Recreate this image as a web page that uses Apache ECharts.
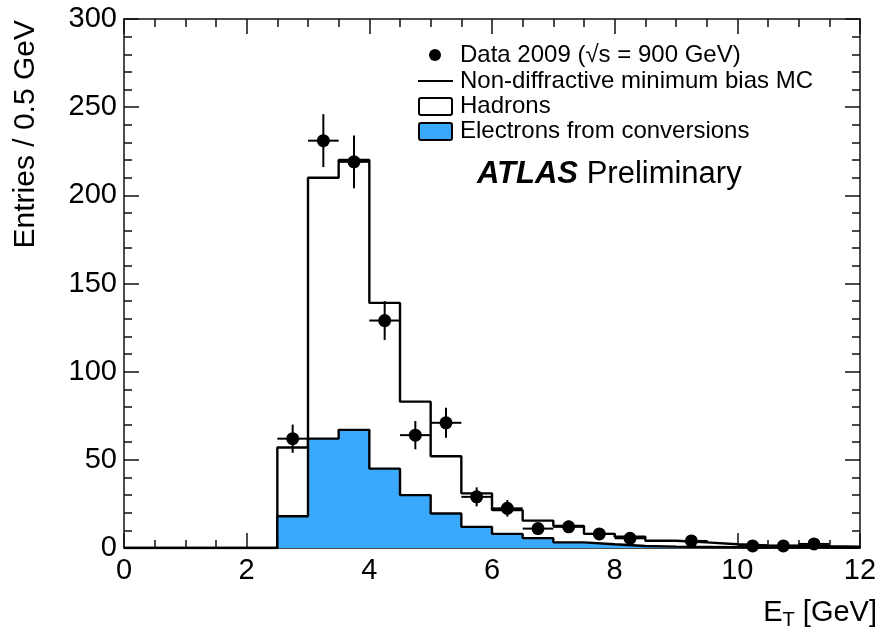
<!DOCTYPE html>
<html>
<head>
<meta charset="utf-8">
<script src="https://cdn.jsdelivr.net/npm/echarts@6/dist/echarts.min.js"></script>
<style>html,body{margin:0;padding:0;background:#fff}#c{width:880px;height:633px}</style>
</head>
<body>
<div id="c"></div>
<script>
// Bin left edges (0.5 GeV bins)
const binEdges = [0,0.5,1,1.5,2,2.5,3,3.5,4,4.5,5,5.5,6,6.5,7,7.5,8,8.5,9,9.5,10,10.5,11,11.5];
// Non-diffractive minimum bias MC (hadrons + electrons) per bin
const mcTotal = [0,0,0,0,0,57,210,220,139,83,52,31,21.5,15.5,12.5,8,6.4,4.1,3.2,2.1,1.5,1.3,1.0,0.8];
// Electrons from conversions per bin
const electrons = [0,0,0,0,0,18,62,67,45,30,19.6,12,8,5.6,3.2,2.1,1.1,0.8,0.6,0.4,0.3,0.2,0.2,0.1];
// Data 2009
const dataX = [2.75,3.25,3.75,4.25,4.75,5.25,5.75,6.25,6.75,7.25,7.75,8.25,9.25,10.25,10.75,11.25];
const dataY = [62,231,219,129,64,71,29,22.5,11,12,8,5.5,4,1.2,1.2,2.3];
const dataErr = [8,15,15,11,8,8.5,5.4,4.7,3.3,3.5,2.8,2.3,2,1.1,1.1,1.5];
const xTicks = [0,2,4,6,8,10,12];
const yTicks = [0,50,100,150,200,250,300];
const binWidth = 0.5;
const xMax = 12;

const FONT = '"Liberation Sans", Arial, Helvetica, sans-serif';
const blue = '#3aa8fb';

function stepData(vals){
  const d = binEdges.map((e,i)=>[e, vals[i]]);
  d.push([xMax, vals[vals.length-1]]);
  return d;
}

const chart = echarts.init(document.getElementById('c'), null, {renderer:'canvas'});

const axisCommon = {
  type:'value',
  axisLine:{show:true, onZero:false, lineStyle:{color:'#111', width:1.5}},
  splitLine:{show:false},
};

const option = {
  backgroundColor:'#fff',
  animation:false,
  grid:{left:124, right:20, top:19, bottom:85, containLabel:false},
  xAxis:[
    Object.assign({}, axisCommon, {
      position:'bottom', min:0, max:12, interval:2,
      axisTick:{show:true, inside:true, length:15, lineStyle:{color:'#111', width:1.5}},
      minorTick:{show:true, splitNumber:4, length:8, lineStyle:{color:'#111', width:1.5}},
      axisLabel:{show:true, margin:8, fontSize:29, color:'#000', fontFamily:FONT,
        customValues: xTicks}
    }),
    Object.assign({}, axisCommon, {
      position:'top', min:0, max:12, interval:2,
      axisTick:{show:true, inside:true, length:15, lineStyle:{color:'#111', width:1.5}},
      minorTick:{show:true, splitNumber:4, length:8, lineStyle:{color:'#111', width:1.5}},
      axisLabel:{show:false}
    })
  ],
  yAxis:[
    Object.assign({}, axisCommon, {
      position:'left', min:0, max:300, interval:50,
      axisTick:{show:true, inside:true, length:15, lineStyle:{color:'#111', width:1.5}},
      minorTick:{show:true, splitNumber:5, length:8, lineStyle:{color:'#111', width:1.5}},
      axisLabel:{show:true, margin:7, fontSize:29, color:'#000', fontFamily:FONT,
        customValues: yTicks}
    }),
    Object.assign({}, axisCommon, {
      position:'right', min:0, max:300, interval:50,
      axisTick:{show:true, inside:true, length:15, lineStyle:{color:'#111', width:1.5}},
      minorTick:{show:true, splitNumber:5, length:8, lineStyle:{color:'#111', width:1.5}},
      axisLabel:{show:false}
    })
  ],
  series:[
    {
      name:'Hadrons', type:'line', step:'end', data:stepData(mcTotal),
      showSymbol:false, symbol:'none',
      lineStyle:{color:'#000', width:2.4},
      areaStyle:{color:'#fff', opacity:1, origin:'start'},
      z:2
    },
    {
      name:'Electrons from conversions', type:'line', step:'end', data:stepData(electrons),
      showSymbol:false, symbol:'none',
      lineStyle:{color:'#000', width:2.4},
      areaStyle:{color:blue, opacity:1, origin:'start'},
      z:3
    },
    {
      name:'errors', type:'custom',
      data:dataX.map((x,i)=>[x, dataY[i], dataErr[i]]),
      renderItem:function(params, api){
        const x = api.value(0), y = api.value(1), e = api.value(2);
        const l = api.coord([x-binWidth/2, y]);
        const r = api.coord([x+binWidth/2, y]);
        const t = api.coord([x, y+e]);
        const b = api.coord([x, Math.max(0,y-e)]);
        const st = {stroke:'#000', lineWidth:2};
        return {type:'group', children:[
          {type:'line', shape:{x1:l[0], y1:l[1], x2:r[0], y2:r[1]}, style:st},
          {type:'line', shape:{x1:t[0], y1:t[1], x2:b[0], y2:b[1]}, style:st}
        ]};
      },
      z:4
    },
    {
      name:'Data 2009', type:'scatter',
      data:dataX.map((x,i)=>[x, dataY[i]]),
      symbol:'circle', symbolSize:13,
      itemStyle:{color:'#000', opacity:1},
      z:5
    }
  ],
  graphic:[
    // y axis title
    {type:'text', x:26, y:20, rotation:Math.PI/2,
      style:{text:'Entries / 0.5 GeV', font:'30px '+FONT, fill:'#000', align:'right', verticalAlign:'middle'}},
    // x axis title
    {type:'text', x:877, y:613,
      style:{text:'{e|E}{s|T}{e| [GeV]}', align:'right', verticalAlign:'middle', fill:'#000',
        rich:{e:{fontSize:29, fontFamily:FONT, fill:'#000', height:34, verticalAlign:'middle'},
              s:{fontSize:20, fontFamily:FONT, fill:'#000', padding:[14,0,0,0], verticalAlign:'middle'}}}},
    // legend
    {type:'circle', shape:{cx:435, cy:55, r:6}, style:{fill:'#000'}},
    {type:'text', x:460, y:55, style:{text:'Data 2009 (\u221As = 900 GeV)', font:'24px '+FONT, fill:'#000', verticalAlign:'middle'}},
    {type:'line', shape:{x1:418, y1:81, x2:453, y2:81}, style:{stroke:'#000', lineWidth:2}},
    {type:'text', x:460, y:81, style:{text:'Non-diffractive minimum bias MC', font:'24px '+FONT, fill:'#000', verticalAlign:'middle'}},
    {type:'rect', shape:{x:419, y:98, width:33, height:17, r:2}, style:{fill:'#fff', stroke:'#000', lineWidth:2}},
    {type:'text', x:460, y:106, style:{text:'Hadrons', font:'24px '+FONT, fill:'#000', verticalAlign:'middle'}},
    {type:'rect', shape:{x:419, y:123, width:33, height:17, r:2}, style:{fill:blue, stroke:'#000', lineWidth:2}},
    {type:'text', x:460, y:131, style:{text:'Electrons from conversions', font:'24px '+FONT, fill:'#000', verticalAlign:'middle'}},
    // ATLAS Preliminary
    {type:'text', x:477, y:174, style:{text:'{a|ATLAS}{p|\u00a0Preliminary}', verticalAlign:'middle',
      rich:{a:{font:'italic bold 31px '+FONT, fill:'#000'}, p:{font:'31px '+FONT, fill:'#000'}}}}
  ]
};
chart.setOption(option);
</script>
</body>
</html>
